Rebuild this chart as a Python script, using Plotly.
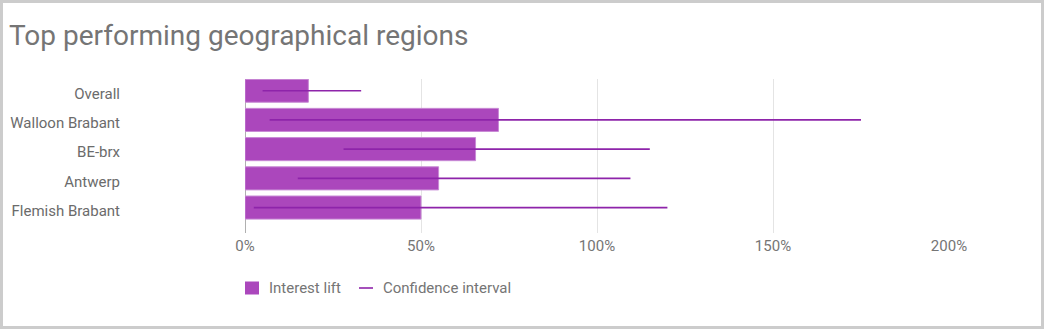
import plotly.graph_objects as go

# Interest lift per region with its confidence interval (fractions, shown as %)
regions = ["Overall", "Walloon Brabant", "BE-brx", "Antwerp", "Flemish Brabant"]
interest_lift = [0.18, 0.72, 0.655, 0.55, 0.50]
ci_low = [0.05, 0.07, 0.28, 0.15, 0.025]
ci_high = [0.33, 1.75, 1.15, 1.095, 1.20]
x_tick_values = [0, 0.5, 1.0, 1.5, 2.0]
x_tick_labels = ["0%", "50%", "100%", "150%", "200%"]

W, H = 1045, 330
L, R, T, B = 245, 96, 79, 97
PW, PH = W - L - R, H - T - B

BAR_COLOR = "#ab47bc"
CI_COLOR = "#8e24aa"
TEXT_COLOR = "#757575"
FONT = "Roboto, Arial, sans-serif"


def fx(px):
    return (px - L) / PW


def fy(py):
    return 1 - (py - T) / PH


fig = go.Figure()

fig.add_trace(go.Bar(
    y=regions,
    x=interest_lift,
    orientation="h",
    width=0.79,
    marker=dict(color=BAR_COLOR, line=dict(color="#c88ad5", width=1)),
    name="Interest lift",
    showlegend=False,
    hoverinfo="skip",
))

ci_x, ci_y = [], []
for region, lo, hi in zip(regions, ci_low, ci_high):
    ci_x += [lo, hi, None]
    ci_y += [region, region, None]

fig.add_trace(go.Scatter(
    x=ci_x,
    y=ci_y,
    mode="lines",
    line=dict(color=CI_COLOR, width=1.6),
    name="Confidence interval",
    showlegend=False,
    hoverinfo="skip",
))

shapes = [
    # outer frame
    dict(type="rect", xref="paper", yref="paper",
         x0=fx(1.5), x1=fx(1042.5), y0=fy(1.5), y1=fy(327.5),
         line=dict(color="#cccccc", width=3), fillcolor="rgba(0,0,0,0)", layer="above"),
    # legend swatches
    dict(type="rect", xref="paper", yref="paper",
         x0=fx(245), x1=fx(259), y0=fy(281.5), y1=fy(294.5),
         line=dict(width=0), fillcolor=BAR_COLOR),
    dict(type="line", xref="paper", yref="paper",
         x0=fx(359), x1=fx(373), y0=fy(288), y1=fy(288),
         line=dict(color=CI_COLOR, width=1.6)),
]

annotations = [
    dict(text="Top performing geographical regions", xref="paper", yref="paper",
         x=fx(7), y=fy(35), xanchor="left", yanchor="middle", showarrow=False,
         font=dict(family=FONT, size=28, color=TEXT_COLOR)),
    dict(text="Interest lift", xref="paper", yref="paper",
         x=fx(267), y=fy(288), xanchor="left", yanchor="middle", showarrow=False,
         font=dict(family=FONT, size=15, color=TEXT_COLOR)),
    dict(text="Confidence interval", xref="paper", yref="paper",
         x=fx(380.5), y=fy(288), xanchor="left", yanchor="middle", showarrow=False,
         font=dict(family=FONT, size=15, color=TEXT_COLOR)),
]

fig.update_layout(
    width=W,
    height=H,
    margin=dict(l=L, r=R, t=T, b=B, pad=0),
    paper_bgcolor="white",
    plot_bgcolor="white",
    font=dict(family=FONT, size=15, color=TEXT_COLOR),
    showlegend=False,
    bargap=0.2,
    shapes=shapes,
    annotations=annotations,
    xaxis=dict(
        range=[0, 2],
        tickvals=x_tick_values,
        ticktext=x_tick_labels,
        showgrid=True,
        gridcolor="#e4e4e4",
        gridwidth=1,
        zeroline=True,
        zerolinecolor="#b0b0b0",
        zerolinewidth=1,
        showline=False,
        ticks="",
        ticklabelstandoff=2,
        tickfont=dict(family=FONT, size=15, color=TEXT_COLOR),
        automargin=False,
        fixedrange=True,
    ),
    yaxis=dict(
        categoryorder="array",
        categoryarray=regions,
        range=[4.87, -0.4],
        showgrid=False,
        zeroline=False,
        showline=False,
        ticks="",
        ticklabelstandoff=124,
        ticklabelshift=-3,
        tickfont=dict(family=FONT, size=15, color="#6b6b6b"),
        automargin=False,
        fixedrange=True,
    ),
)

fig.write_html("out.html", config={"displayModeBar": False})
